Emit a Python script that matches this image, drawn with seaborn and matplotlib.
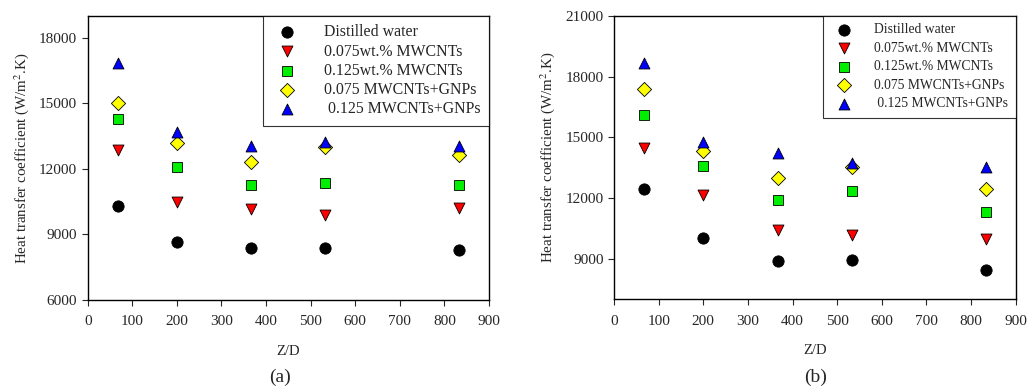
import numpy as np
import pandas as pd
import matplotlib
matplotlib.use("Agg")
import matplotlib.pyplot as plt
import seaborn as sns

# ---- data ----
zd = [67, 200, 367, 533, 833]
series_names = ["Distilled water", "0.075wt.% MWCNTs", "0.125wt.% MWCNTs",
                "0.075 MWCNTs+GNPs", " 0.125 MWCNTs+GNPs"]

a_water = [10300, 8650, 8360, 8390, 8290]
a_mw075 = [12860, 10480, 10160, 9890, 10190]
a_mw125 = [14270, 12070, 11260, 11340, 11250]
a_hy075 = [15030, 13170, 12330, 13010, 12630]
a_hy125 = [16830, 13670, 13060, 13210, 13050]

b_water = [12460, 10050, 8900, 8950, 8440]
b_mw075 = [14480, 12150, 10410, 10200, 10000]
b_mw125 = [16130, 13570, 11920, 12350, 11330]
b_hy075 = [17390, 14320, 12990, 13530, 12450]
b_hy125 = [18700, 14760, 14220, 13750, 13530]

colors = ["#000000", "#ff0000", "#00ee00", "#ffff00", "#0000ff"]
markers = ["o", "v", "s", "D", "^"]
sizes = [66, 62, 52, 52, 62]

sns.set_style("ticks")
plt.rcParams["font.family"] = ["Liberation Serif", "DejaVu Serif"]
plt.rcParams["mathtext.fontset"] = "stix"

fig = plt.figure(figsize=(10.28, 3.92), dpi=100)
ax_a = fig.add_axes([0.0853, 0.2347, 0.3904, 0.7253])
ax_b = fig.add_axes([0.5973, 0.2365, 0.3908, 0.7227])


def draw(ax, vals, ylim, yticks, legend_fs, lspace, htp, label, lx):
    for name, v, c, m, s in zip(series_names, vals, colors, markers, sizes):
        df = pd.DataFrame({"Z/D": zd, "h": v})
        sns.scatterplot(data=df, x="Z/D", y="h", ax=ax, color=c, marker=m, s=s,
                        edgecolor="black", linewidth=0.6, label=name, zorder=3)
    ax.set_xlim(0, 900)
    ax.set_xticks(np.arange(0, 901, 100))
    ax.set_ylim(*ylim)
    ax.set_yticks(yticks)
    ax.tick_params(labelsize=11, direction="out", length=4, width=0.8)
    ax.tick_params(axis="x", pad=7)
    for sp in ax.spines.values():
        sp.set_linewidth(1.0)
        sp.set_color("black")
    ax.set_xlabel("Z/D", fontsize=10.5, labelpad=12)
    ax.set_ylabel("Heat transfer coefficient (W/m$^2$.K)", fontsize=10.8, labelpad=6)
    leg = ax.legend(loc="upper right", fontsize=legend_fs, frameon=True, fancybox=False,
                    borderaxespad=0.0, handletextpad=htp, labelspacing=lspace,
                    borderpad=0.55, handlelength=2.0)
    leg.get_frame().set_edgecolor("black")
    leg.get_frame().set_linewidth(0.8)
    fig.text(lx, 0.038, label, ha="center", va="center", fontsize=14)


draw(ax_a, [a_water, a_mw075, a_mw125, a_hy075, a_hy125], (6000, 19000),
     [6000, 9000, 12000, 15000, 18000], 11.4, 0.2, 1.3, "(a)", 0.272)
draw(ax_b, [b_water, b_mw075, b_mw125, b_hy075, b_hy125], (7000, 21000),
     [9000, 12000, 15000, 18000, 21000], 9.8, 0.4, 1.2, "(b)", 0.793)

fig.savefig("out.png", dpi=100)
